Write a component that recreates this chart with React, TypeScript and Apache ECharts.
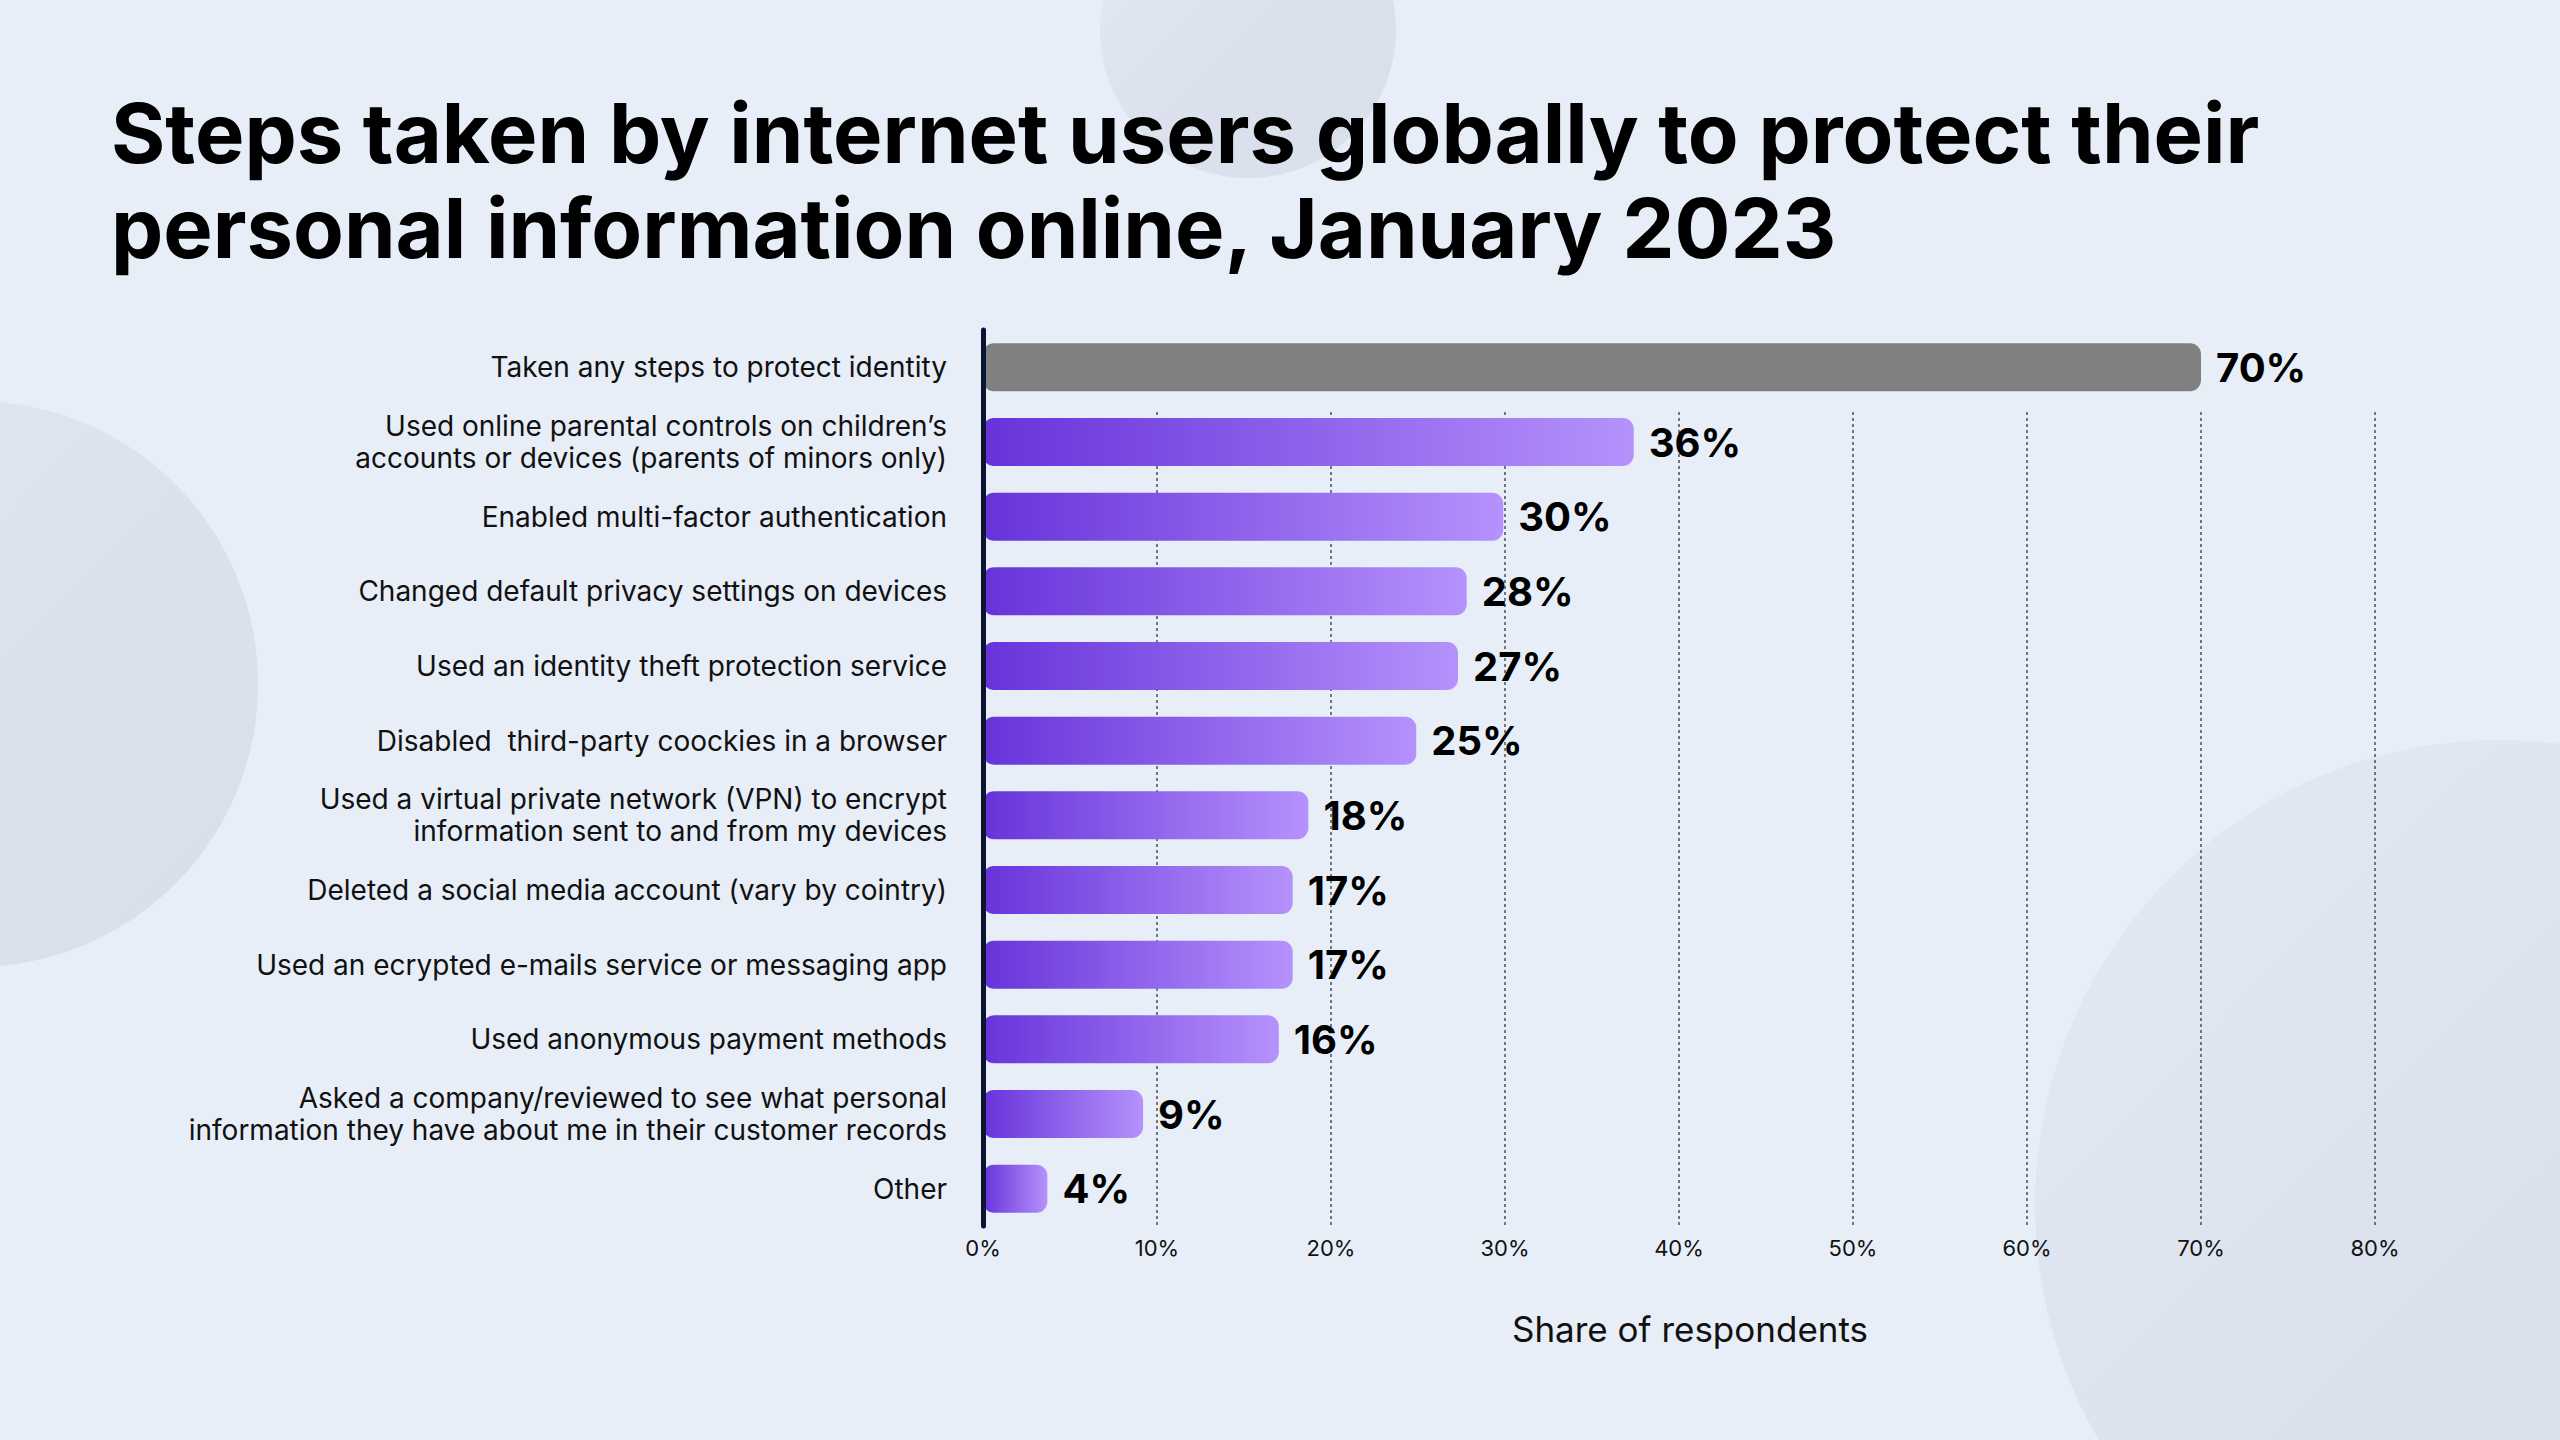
import React, { useEffect, useRef } from "react";
import * as echarts from "echarts";

const categories: string[] = [
  "Taken any steps to protect identity",
  "Used online parental controls on children’s\naccounts or devices (parents of minors only)",
  "Enabled multi-factor authentication",
  "Changed default privacy settings on devices",
  "Used an identity theft protection service",
  "Disabled  third-party coockies in a browser",
  "Used a virtual private network (VPN) to encrypt\ninformation sent to and from my devices",
  "Deleted a social media account (vary by cointry)",
  "Used an ecrypted e-mails service or messaging app",
  "Used anonymous payment methods",
  "Asked a company/reviewed to see what personal\ninformation they have about me in their customer records",
  "Other",
];

// Share of respondents as printed next to each bar (%)
const shares: number[] = [70, 36, 30, 28, 27, 25, 18, 17, 17, 16, 9, 4];
// Bar lengths as drawn in the reference (%)
const barLengths: number[] = [70, 37.4, 29.9, 27.8, 27.3, 24.9, 18.7, 17.8, 17.8, 17.0, 9.2, 3.7];

const xTicks = { min: 0, max: 80, interval: 10 };

const TITLE = "Steps taken by internet users globally to protect their\npersonal information online, January 2023";
const AXIS_NAME = "Share of respondents";

const FONT = "Inter, 'Noto Sans', sans-serif";

export default function App() {
  const ref = useRef<HTMLDivElement>(null);

  useEffect(() => {
    document.body.style.margin = "0";
    if (!ref.current) return;
    const chart = echarts.init(ref.current, undefined, { renderer: "svg" });

    const purple = new echarts.graphic.LinearGradient(0, 0, 1, 0, [
      { offset: 0, color: "#6733da" },
      { offset: 1, color: "#b592fc" },
    ]);

    const circleFill = new echarts.graphic.LinearGradient(0, 0, 1, 1, [
      { offset: 0, color: "#e4eaf5" },
      { offset: 0.5, color: "#dbe1ed" },
      { offset: 1, color: "#d8deea" },
    ]);

    const option: any = {
      animation: false,
      backgroundColor: "#e8eef8",
      textStyle: { fontFamily: FONT },
      graphic: [
        { type: "circle", z: -10, silent: true, shape: { cx: 1248, cy: 30, r: 148 }, style: { fill: circleFill } },
        { type: "circle", z: -10, silent: true, shape: { cx: -25, cy: 684, r: 283 }, style: { fill: circleFill } },
        { type: "circle", z: -10, silent: true, shape: { cx: 2500, cy: 1205, r: 465 }, style: { fill: circleFill } },
      ],
      title: {
        text: TITLE,
        left: 106,
        top: 80,
        textStyle: {
          fontFamily: FONT,
          fontSize: 83,
          lineHeight: 95,
          fontWeight: "bold",
          color: "#000000",
        },
      },
      grid: [
        { left: 983, width: 1392, top: 330, height: 896 },
        { left: 983, width: 1392, top: 412, height: 814 },
      ],
      xAxis: [
        {
          gridIndex: 0,
          type: "value",
          min: xTicks.min,
          max: xTicks.max,
          interval: xTicks.interval,
          axisLine: { show: false },
          axisTick: { show: false },
          splitLine: { show: false },
          axisLabel: {
            formatter: "{value}%",
            fontSize: 22,
            color: "#111111",
            margin: 11,
            fontFamily: FONT,
          },
          name: AXIS_NAME,
          nameLocation: "middle",
          nameGap: 85,
          nameTextStyle: {
            fontSize: 35,
            color: "#111111",
            fontFamily: FONT,
            padding: [0, 0, 0, 22],
          },
        },
        {
          gridIndex: 1,
          type: "value",
          min: xTicks.min,
          max: xTicks.max,
          interval: xTicks.interval,
          axisLine: { show: false },
          axisTick: { show: false },
          axisLabel: { show: false },
          splitLine: {
            show: true,
            lineStyle: { color: "#4a4f5c", width: 1.5, type: [3, 3] },
          },
        },
      ],
      yAxis: [
        {
          gridIndex: 0,
          type: "category",
          data: categories,
          inverse: true,
          axisLine: {
            show: true,
            lineStyle: { color: "#0b1430", width: 5, cap: "round" },
          },
          axisTick: { show: false },
          z: 5,
          axisLabel: {
            fontSize: 28,
            lineHeight: 32,
            color: "#111111",
            margin: 36,
            align: "right",
            fontFamily: FONT,
          },
        },
        {
          gridIndex: 1,
          type: "value",
          show: false,
          min: 0,
          max: 1,
        },
      ],
      series: [
        {
          type: "bar",
          xAxisIndex: 0,
          yAxisIndex: 0,
          barWidth: 48,
          z: 3,
          data: barLengths.map((v, i) => ({
            value: v,
            itemStyle: {
              color: i === 0 ? "#808081" : purple,
              borderRadius: 11,
            },
          })),
          label: {
            show: true,
            position: "right",
            distance: 15,
            fontSize: 40,
            fontWeight: "bold",
            color: "#000000",
            fontFamily: FONT,
            formatter: (p: any) => `${shares[p.dataIndex]}%`,
          },
        },
        {
          type: "scatter",
          xAxisIndex: 1,
          yAxisIndex: 1,
          data: [],
          silent: true,
        },
      ],
    };

    chart.setOption(option);
    return () => chart.dispose();
  }, []);

  return <div ref={ref} style={{ width: 2560, height: 1440 }} />;
}
